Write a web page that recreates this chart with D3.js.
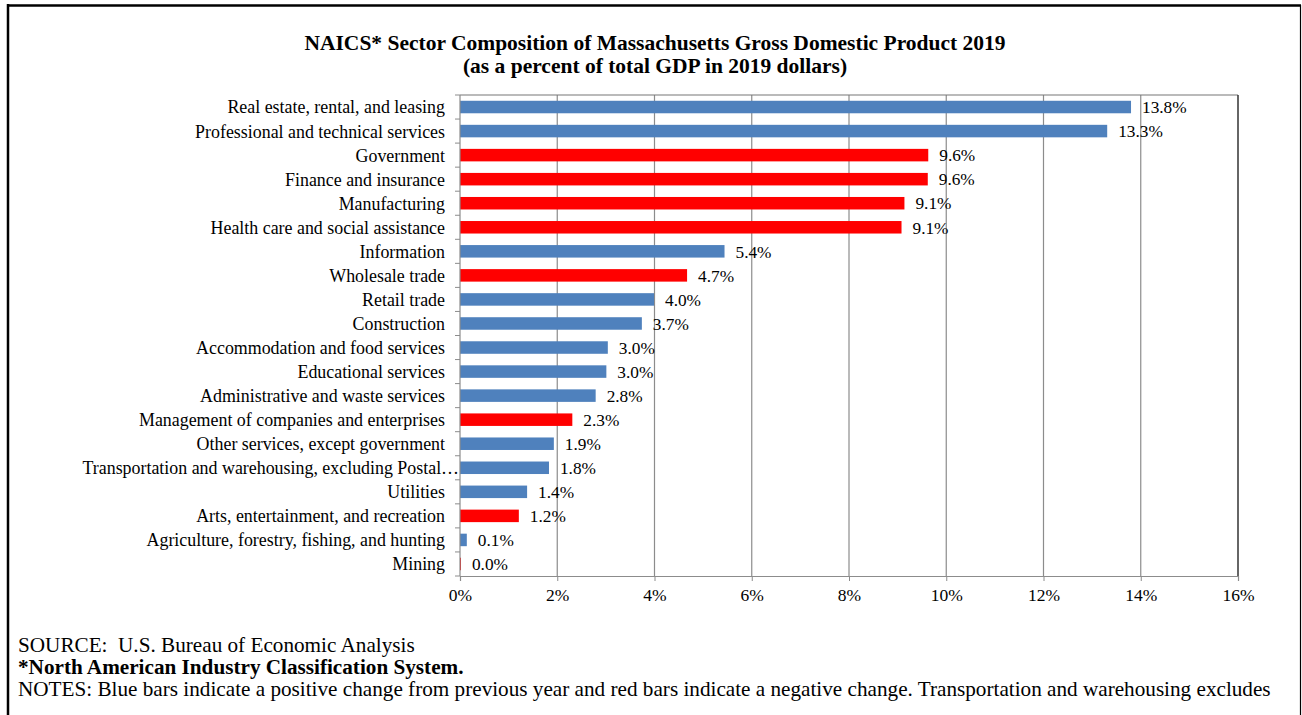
<!DOCTYPE html>
<html><head><meta charset="utf-8">
<script src="https://cdn.jsdelivr.net/npm/d3@7/dist/d3.min.js"></script>
<style>body{margin:0;background:#fff}svg{display:block}text{white-space:pre}</style>
</head><body>
<svg id="c" width="1302" height="715"></svg>
<script>
const categories = [
  "Real estate, rental, and leasing",
  "Professional and technical services",
  "Government",
  "Finance and insurance",
  "Manufacturing",
  "Health care and social assistance",
  "Information",
  "Wholesale trade",
  "Retail trade",
  "Construction",
  "Accommodation and food services",
  "Educational services",
  "Administrative and waste services",
  "Management of companies and enterprises",
  "Other services, except government",
  "Transportation and warehousing, excluding Postal\u2026",
  "Utilities",
  "Arts, entertainment, and recreation",
  "Agriculture, forestry, fishing, and hunting",
  "Mining"
];
const values = [13.8, 13.31, 9.63, 9.62, 9.14, 9.08, 5.44, 4.67, 3.99, 3.74, 3.04, 3.01, 2.79, 2.31, 1.93, 1.83, 1.38, 1.21, 0.14, 0.02];
const changes = ["pos","pos","neg","neg","neg","neg","pos","neg","pos","pos","pos","pos","pos","neg","pos","pos","pos","neg","pos","neg"];
const xTicks = [0, 2, 4, 6, 8, 10, 12, 14, 16];
const titleLines = ["NAICS* Sector Composition of Massachusetts Gross Domestic Product 2019", "(as a percent of total GDP in 2019 dollars)"];
const footerLines = [
  {text: "SOURCE:  U.S. Bureau of Economic Analysis", bold: false},
  {text: "*North American Industry Classification System.", bold: true},
  {text: "NOTES: Blue bars indicate a positive change from previous year and red bars indicate a negative change. Transportation and warehousing excludes", bold: false}
];

const svg = d3.select("#c");
const font = "'Liberation Serif','Times New Roman',serif";
// outer frame
svg.append("line").attr("x1",8).attr("x2",8).attr("y1",4).attr("y2",715).attr("stroke","#000").attr("stroke-width",2.5);
svg.append("line").attr("x1",7).attr("x2",1301).attr("y1",5.5).attr("y2",5.5).attr("stroke","#000").attr("stroke-width",2.5);
svg.append("line").attr("x1",1300.5).attr("x2",1300.5).attr("y1",5).attr("y2",715).attr("stroke","#000").attr("stroke-width",1.2);

const L = 460, R = 1238, T = 95, B = 576;
const x = d3.scaleLinear().domain([0,16]).range([L,R]);
const y = d3.scaleBand().domain(categories).range([T,B]).paddingInner(0.48).paddingOuter(0.24);

// title
svg.append("g").selectAll("text").data(titleLines).join("text")
  .attr("x",655).attr("y",(d,i)=>50+i*23).attr("text-anchor","middle")
  .attr("font-family",font).attr("font-weight","bold").attr("font-size",21.5).text(d=>d);

// gridlines
svg.append("g").selectAll("line").data(xTicks.slice(1,-1)).join("line")
  .attr("x1",d=>x(d)).attr("x2",d=>x(d)).attr("y1",T).attr("y2",B)
  .attr("stroke","#8c8c8c").attr("stroke-width",1.2);

// plot frame top & right
svg.append("line").attr("x1",L).attr("x2",R).attr("y1",T).attr("y2",T).attr("stroke","#777").attr("stroke-width",1.2);
svg.append("line").attr("x1",R).attr("x2",R).attr("y1",T).attr("y2",B).attr("stroke","#333").attr("stroke-width",1.5);

// bars
svg.append("g").selectAll("rect").data(categories).join("rect")
  .attr("x",x(0)).attr("y",d=>y(d)).attr("height",y.bandwidth())
  .attr("width",(d,i)=>x(values[i])-x(0))
  .attr("fill",(d,i)=>changes[i]==="pos"?"#4F81BD":"#FF0000");

// value labels
svg.append("g").selectAll("text").data(categories).join("text")
  .attr("x",(d,i)=>x(values[i])+11).attr("y",d=>y(d)+y.bandwidth()/2).attr("dy","0.36em")
  .attr("font-family",font).attr("font-size",17.3).attr("fill","#000")
  .text((d,i)=>values[i].toFixed(1)+"%");

// x axis
const xAxis = svg.append("g").attr("transform",`translate(0,${B})`)
  .call(d3.axisBottom(x).tickValues(xTicks).tickFormat(d=>d+"%").tickSize(5).tickPadding(8));
xAxis.select(".domain").attr("stroke","#8c8c8c").attr("stroke-width",1.2);
xAxis.selectAll(".tick line").attr("stroke","#8c8c8c");
xAxis.selectAll("text").attr("font-family",font).attr("font-size",17.5).attr("fill","#000");

// y axis
const yStep = (B-T)/categories.length;
svg.append("line").attr("x1",L).attr("x2",L).attr("y1",T).attr("y2",B).attr("stroke","#8c8c8c").attr("stroke-width",1.2);
svg.append("g").selectAll("line").data(d3.range(categories.length+1)).join("line")
  .attr("x1",L-5).attr("x2",L).attr("y1",i=>T+i*yStep).attr("y2",i=>T+i*yStep)
  .attr("stroke","#8c8c8c");
svg.append("g").selectAll("text").data(categories).join("text")
  .attr("x",(d)=>d.endsWith("\u2026")?459:445).attr("y",d=>y(d)+y.bandwidth()/2).attr("dy","0.36em").attr("text-anchor","end")
  .attr("font-family",font).attr("font-size",17.9).attr("fill","#000").text(d=>d);

// footer
svg.append("g").selectAll("text").data(footerLines).join("text")
  .attr("x",18).attr("y",(d,i)=>652+i*22)
  .attr("font-family",font).attr("font-size",21.2).attr("font-weight",d=>d.bold?"bold":"normal")
  .text(d=>d.text);
</script>
</body></html>
